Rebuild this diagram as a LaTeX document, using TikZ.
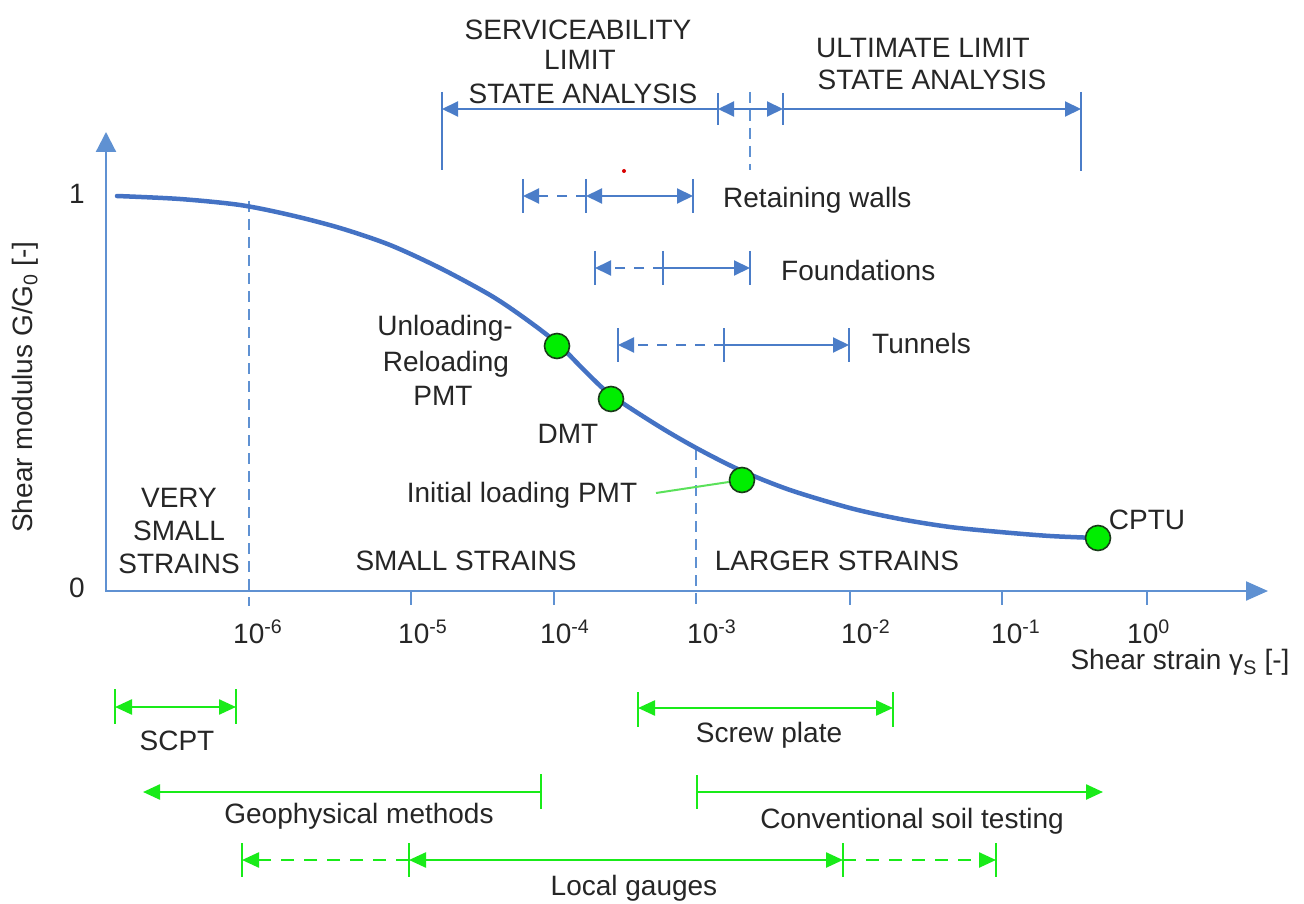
\documentclass[tikz,border=0pt]{standalone}
\usepackage{fontspec}
\setmainfont{Liberation Sans}
\usetikzlibrary{arrows.meta}

\definecolor{curveblue}{RGB}{68,114,196}
\definecolor{axisblue}{RGB}{95,145,210}
\definecolor{rangeblue}{RGB}{75,125,200}
\definecolor{testgreen}{RGB}{25,235,25}
\definecolor{leadgreen}{RGB}{90,225,90}
\definecolor{dotgreen}{RGB}{0,238,0}
\definecolor{dotrim}{RGB}{25,60,25}
\definecolor{ink}{RGB}{38,38,38}

\begin{document}
\begin{tikzpicture}[x=1pt, y=-1pt,
  lbl/.style={font=\fontsize{28}{34}\selectfont, text=ink, inner sep=0pt, anchor=base},
  lblw/.style={lbl, anchor=base west},
  axisline/.style={draw=axisblue, line width=2.2pt},
  tickline/.style={draw=axisblue, line width=2pt},
  regionline/.style={draw=axisblue, line width=1.6pt, dash pattern=on 11pt off 7pt},
  bluebar/.style={draw=rangeblue, line width=2pt},
  bluerange/.style={draw=rangeblue, line width=2pt},
  blueto/.style={-{Triangle[length=16pt,width=15pt]}},
  blueboth/.style={{Triangle[length=16pt,width=15pt]}-{Triangle[length=16pt,width=15pt]}},
  bluedash/.style={dash pattern=on 10pt off 9pt},
  greenbar/.style={draw=testgreen, line width=2.4pt},
  greenrange/.style={draw=testgreen, line width=2.4pt},
  greento/.style={-{Triangle[length=17pt,width=15pt]}},
  greenboth/.style={{Triangle[length=17pt,width=15pt]}-{Triangle[length=17pt,width=15pt]}},
  greendash/.style={dash pattern=on 13pt off 10pt},
  testdot/.style={circle, minimum size=25pt, inner sep=0pt, fill=dotgreen, draw=dotrim, line width=1.6pt},
]
\useasboundingbox[fill=white] (0,0) rectangle (1304,904);

% ---------- axes ----------
\coordinate (O) at (106,591);
\coordinate (ytop) at (106,132);
\coordinate (xend) at (1268,591);
\draw[axisline, -{Triangle[length=20pt,width=20pt]}] (O) -- (ytop);
\draw[axisline, -{Triangle[length=22pt,width=19pt]}] (105,591) -- (xend);

% tick marks
\foreach \tx in {411,554,850,1002,1147}
  \draw[tickline] (\tx,591) -- (\tx,605);

% strain-region boundaries
\draw[regionline] (249,201) -- (249,606);
\draw[regionline] (696,449) -- (696,606);

% tick labels
\node[lblw] (t6) at (233,643) {10\textsuperscript{-6}};
\node[lblw] (t5) at (398,643) {10\textsuperscript{-5}};
\node[lblw] (t4) at (540,643) {10\textsuperscript{-4}};
\node[lblw] (t3) at (687,643) {10\textsuperscript{-3}};
\node[lblw] (t2) at (841,643) {10\textsuperscript{-2}};
\node[lblw] (t1) at (991,643) {10\textsuperscript{-1}};
\node[lblw] (t0) at (1127,643) {10\textsuperscript{0}};

\node[lbl] (yone) at (77,204) {1};
\node[lbl] (yzero) at (77,597) {0};

% axis titles
\node[lbl, anchor=center, rotate=90] (ytitle) at (25,387) {Shear modulus G/G\textsubscript{0} [-]};
\node[lbl] (xtitle) at (1180,669) {Shear strain γ\textsubscript{S} [-]};

% strain regions
\node[lbl] (vs1) at (179,507) {VERY};
\node[lbl] (vs2) at (179,540) {SMALL};
\node[lbl] (vs3) at (179,573) {STRAINS};
\node[lbl] (ss) at (466,570) {SMALL STRAINS};
\node[lbl] (ls) at (837,570) {LARGER STRAINS};

% ---------- limit state ranges ----------
\node[lbl] (sls1) at (578,40) {SERVICEABILITY};
\node[lbl] (sls2) at (580,70) {LIMIT};
\node[lbl] (sls3) at (583,104) {STATE ANALYSIS};
\node[lbl] (uls1) at (923,58) {ULTIMATE LIMIT};
\node[lbl] (uls2) at (932,90) {STATE ANALYSIS};

\coordinate (sA) at (442,109);
\coordinate (sB) at (718,109);
\coordinate (sm) at (750,109);
\coordinate (uA) at (783,109);
\coordinate (uB) at (1081,109);
\draw[bluebar] (442,92) -- (442,170);
\draw[bluebar] (718,93) -- (718,125);
\draw[bluebar] (783,93) -- (783,125);
\draw[bluebar] (1081,92) -- (1081,171);
\draw[regionline] (750,92) -- (750,170);
\draw[bluerange, blueto] (sB) -- (sA);
\draw[bluerange, blueto] (sm) -- (sB);
\draw[bluerange, blueto] (sm) -- (uA);
\draw[bluerange, blueto] (uA) -- (uB);

% small red mark
\fill[red!85!black] (624,171) circle (2pt);

% ---------- design applications ----------
% Retaining walls
\coordinate (rw1) at (523,196);
\coordinate (rw2) at (586,196);
\coordinate (rw3) at (693,196);
\foreach \bx in {523,586,693} \draw[bluebar] (\bx,179) -- (\bx,213);
\draw[bluerange, bluedash, blueto] (rw2) -- (rw1);
\draw[bluerange, blueboth] (rw2) -- (rw3);
\node[lblw] (rw) at (723,208) {Retaining walls};

% Foundations
\coordinate (fd1) at (595,268);
\coordinate (fd2) at (663,268);
\coordinate (fd3) at (750,268);
\foreach \bx in {595,663,750} \draw[bluebar] (\bx,251) -- (\bx,285);
\draw[bluerange, bluedash, blueto] (fd2) -- (fd1);
\draw[bluerange, blueto] (fd2) -- (fd3);
\node[lblw] (fd) at (781,280) {Foundations};

% Tunnels
\coordinate (tn1) at (618,345);
\coordinate (tn2) at (724,345);
\coordinate (tn3) at (849,345);
\foreach \bx in {618,724,849} \draw[bluebar] (\bx,328) -- (\bx,362);
\draw[bluerange, bluedash, blueto] (tn2) -- (tn1);
\draw[bluerange, blueto] (tn2) -- (tn3);
\node[lblw] (tn) at (872,353) {Tunnels};

% ---------- modulus degradation curve ----------
\draw[curveblue, line width=4.5pt, line cap=round]
  plot[smooth, tension=0.5] coordinates {(117,196) (180,199) (240,205) (290,215) (340,228)
    (390,245) (440,268) (490,295) (523,317) (557,343) (585,371) (611,395) (660,427)
    (700,450) (742,471) (790,490) (850,508) (900,519) (950,527) (1000,532) (1050,536) (1097,538)};

% in-situ tests on the curve
\node[testdot] (urpmt) at (557,346) {};
\node[testdot] (dmt) at (611,399) {};
\node[testdot] (ilpmt) at (742,480) {};
\node[testdot] (cptu) at (1098,538) {};

\node[lbl] (lur1) at (445,335) {Unloading-};
\node[lbl] (lur2) at (446,371) {Reloading};
\node[lbl] (lur3) at (443,405) {PMT};
\node[lbl] (ldmt) at (568,443) {DMT};
\node[lbl] (lil) at (522,502) {Initial loading PMT};
\node[lbl] (lcptu) at (1147,529) {CPTU};
\coordinate (ilend) at (656,493);
\draw[leadgreen, line width=2pt] (ilend) -- (ilpmt);

% ---------- testing methods ----------
% SCPT
\coordinate (sc1) at (115,707);
\coordinate (sc2) at (236,707);
\foreach \bx in {115,236} \draw[greenbar] (\bx,689) -- (\bx,724);
\draw[greenrange, greenboth] (sc1) -- (sc2);
\node[lbl] (scpt) at (177,750) {SCPT};

% Screw plate
\coordinate (sp1) at (638,708);
\coordinate (sp2) at (893,708);
\foreach \bx in {638,893} \draw[greenbar] (\bx,692) -- (\bx,727);
\draw[greenrange, greenboth] (sp1) -- (sp2);
\node[lbl] (scrp) at (769,742) {Screw plate};

% Geophysical methods
\coordinate (gp1) at (541,792);
\coordinate (gp2) at (143,792);
\draw[greenbar] (541,774) -- (541,809);
\draw[greenrange, greento] (gp1) -- (gp2);
\node[lbl] (geo) at (359,823) {Geophysical methods};

% Conventional soil testing
\coordinate (cv1) at (697,792);
\coordinate (cv2) at (1103,792);
\draw[greenbar] (697,775) -- (697,809);
\draw[greenrange, greento] (cv1) -- (cv2);
\node[lbl] (conv) at (912,828) {Conventional soil testing};

% Local gauges
\coordinate (lg1) at (242,860);
\coordinate (lg2) at (409,860);
\coordinate (lg3) at (843,860);
\coordinate (lg4) at (996,860);
\foreach \bx in {242,409,843,996} \draw[greenbar] (\bx,843) -- (\bx,877);
\draw[greenrange, greendash, greento] (lg2) -- (lg1);
\draw[greenrange, greenboth] (lg2) -- (lg3);
\draw[greenrange, greendash, greento] (lg3) -- (lg4);
\node[lbl] (lgau) at (634,895) {Local gauges};
\end{tikzpicture}
\end{document}
